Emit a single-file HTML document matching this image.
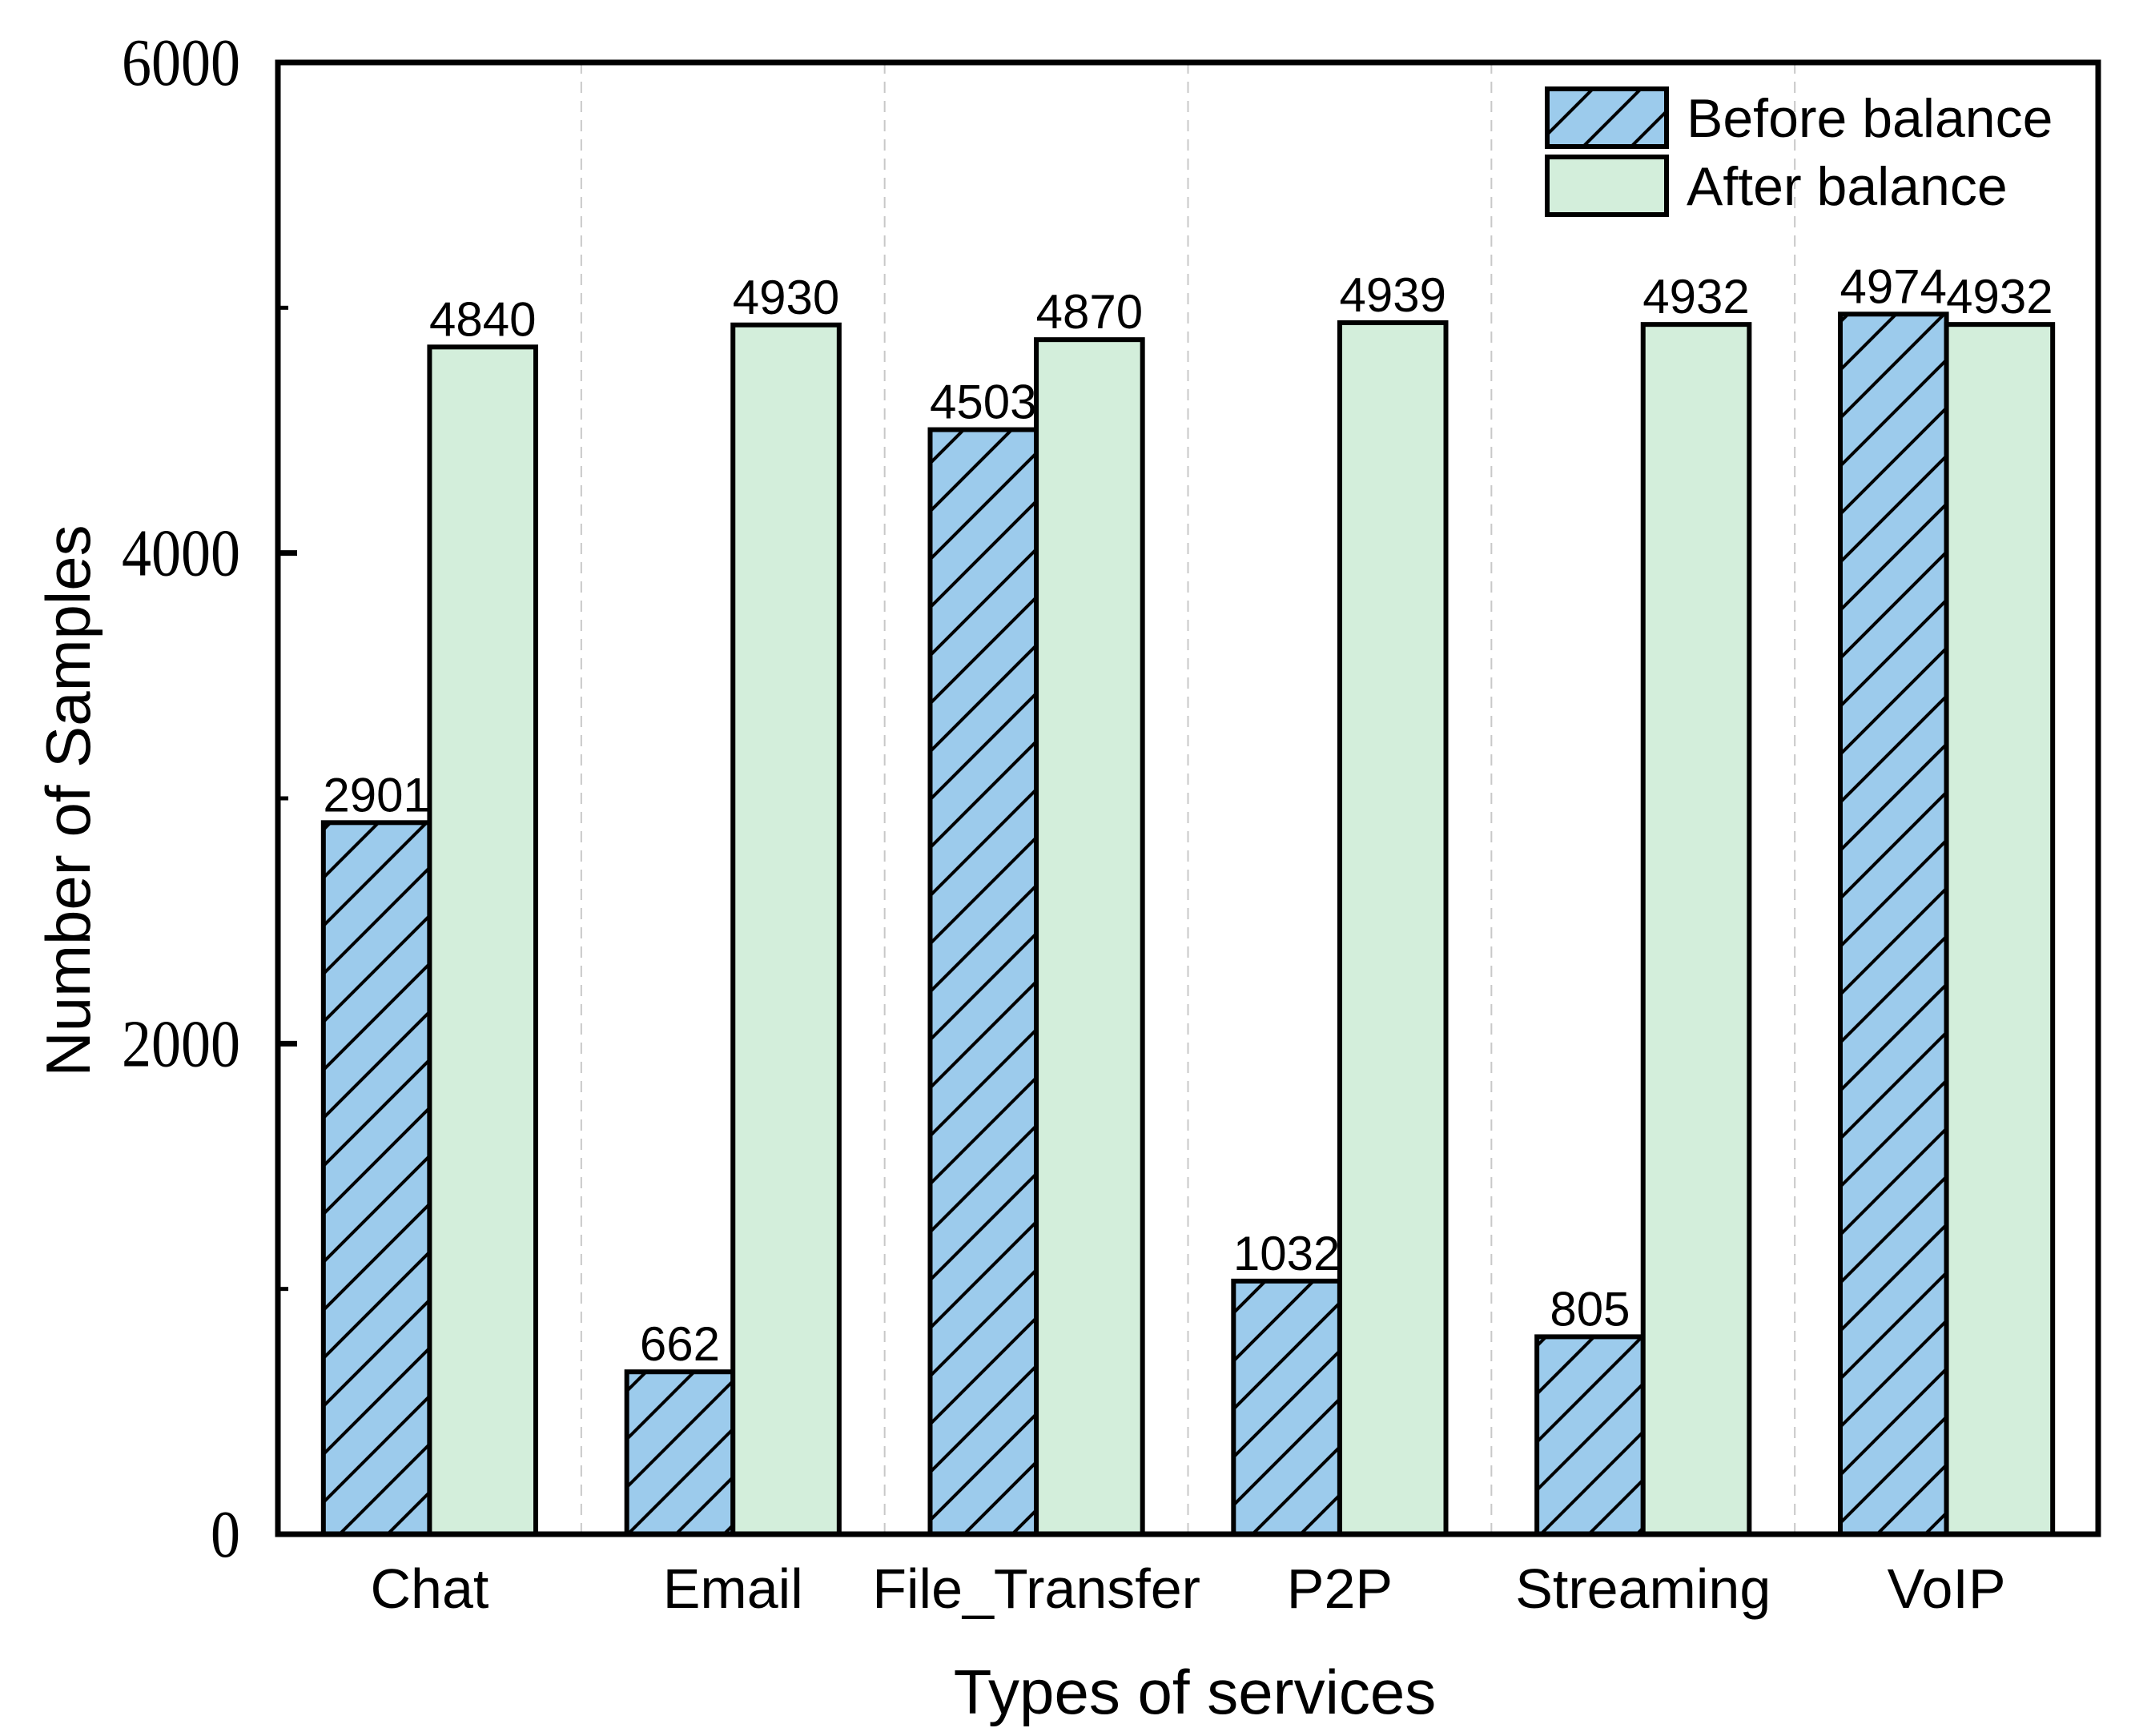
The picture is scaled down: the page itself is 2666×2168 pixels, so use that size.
<!DOCTYPE html>
<html><head><meta charset="utf-8"><style>
html,body{margin:0;padding:0;background:#fff;}
svg{display:block;}
</style></head><body>
<svg id="chart" width="2666" height="2168" xmlns="http://www.w3.org/2000/svg">
<defs>
<pattern id="hatch" patternUnits="userSpaceOnUse" width="60" height="60">
<rect width="60" height="60" fill="#9ccbec"/>
<path d="M-15,15 L15,-15 M0,60 L60,0 M45,75 L75,45" stroke="#000" stroke-width="4"/>
</pattern>
</defs>
<g id="grid"></g>
<g id="bars"></g>
<g id="labels"></g>
<g id="axes"></g>
<text x="1492" y="2140" font-family="Liberation Sans, sans-serif" font-size="78" text-anchor="middle">Types of services</text>
<text transform="translate(112,1000) rotate(-90)" font-family="Liberation Sans, sans-serif" font-size="78" text-anchor="middle">Number of Samples</text>
<g>
<rect x="1932" y="111" width="149" height="72" fill="url(#hatch)" stroke="#000" stroke-width="6"/>
<text x="2106" y="171" font-family="Liberation Sans, sans-serif" font-size="68">Before balance</text>
<rect x="1932" y="196" width="149" height="72" fill="#d3eedb" stroke="#000" stroke-width="6"/>
<text x="2106" y="256" font-family="Liberation Sans, sans-serif" font-size="68">After balance</text>
</g>
</svg>
<script>
const categories = ["Chat","Email","File_Transfer","P2P","Streaming","VoIP"];
const beforeValues = [2901,662,4503,1032,805,4974];
const afterValues = [4840,4930,4870,4939,4932,4932];
const yTicks = [0,2000,4000,6000];
const yMinorTicks = [1000,3000,5000];

const NS="http://www.w3.org/2000/svg";
const L=347,R=2620,T=78,B=1916,yMax=6000;
const y=v=>B-(v/yMax)*(B-T);
const gw=(R-L)/categories.length;
const xc=i=>L+gw*(i+0.5);
const bw=gw*0.35;
function mk(tag,attrs,parent){const e=document.createElementNS(NS,tag);for(const k in attrs)e.setAttribute(k,attrs[k]);parent.appendChild(e);return e;}
const grid=document.getElementById('grid'),bars=document.getElementById('bars'),labels=document.getElementById('labels'),axes=document.getElementById('axes');
for(let i=1;i<categories.length;i++){
  const l=mk('line',{x1:L+gw*i,x2:L+gw*i,y1:T,y2:B,stroke:'#c8c8c8','stroke-width':2,'stroke-dasharray':'14,10'},grid);
  
  
}
categories.forEach((c,i)=>{
  const b=mk('rect',{x:xc(i)-bw,y:y(beforeValues[i]),width:bw,height:B-y(beforeValues[i]),fill:'url(#hatch)',stroke:'#000','stroke-width':6},bars);
  
  
  const a=mk('rect',{x:xc(i),y:y(afterValues[i]),width:bw,height:B-y(afterValues[i]),fill:'#d3eedb',stroke:'#000','stroke-width':6},bars);
  
  
  const t1=mk('text',{x:xc(i)-bw/2,y:y(beforeValues[i])-14,'font-family':'Liberation Sans, sans-serif','font-size':60,'text-anchor':'middle'},labels);
  t1.textContent=beforeValues[i];
  
  
  const t2=mk('text',{x:xc(i)+bw/2,y:y(afterValues[i])-14,'font-family':'Liberation Sans, sans-serif','font-size':60,'text-anchor':'middle'},labels);
  t2.textContent=afterValues[i];
  
  
  const xl=mk('text',{x:xc(i),y:2008,'font-family':'Liberation Sans, sans-serif','font-size':70,'text-anchor':'middle'},labels);
  xl.textContent=c;
  
  
});
const frame=mk('rect',{x:L,y:T,width:R-L,height:B-T,fill:'none',stroke:'#000','stroke-width':7},axes);


yTicks.forEach(v=>{
  const tk=mk('line',{x1:L,x2:L+24,y1:y(v),y2:y(v),stroke:'#000','stroke-width':7},axes);
  
  
  const t=mk('text',{x:300,y:y(v)+28,'font-family':'Liberation Serif, serif','font-size':84,'text-anchor':'end',textLength:String(v).length*37,lengthAdjust:'spacingAndGlyphs'},axes);
  t.textContent=v;
  
  
});
yMinorTicks.forEach(v=>{
  const tk=mk('line',{x1:L,x2:L+13,y1:y(v),y2:y(v),stroke:'#000','stroke-width':5},axes);
  
  
});
</script>
</body></html>
